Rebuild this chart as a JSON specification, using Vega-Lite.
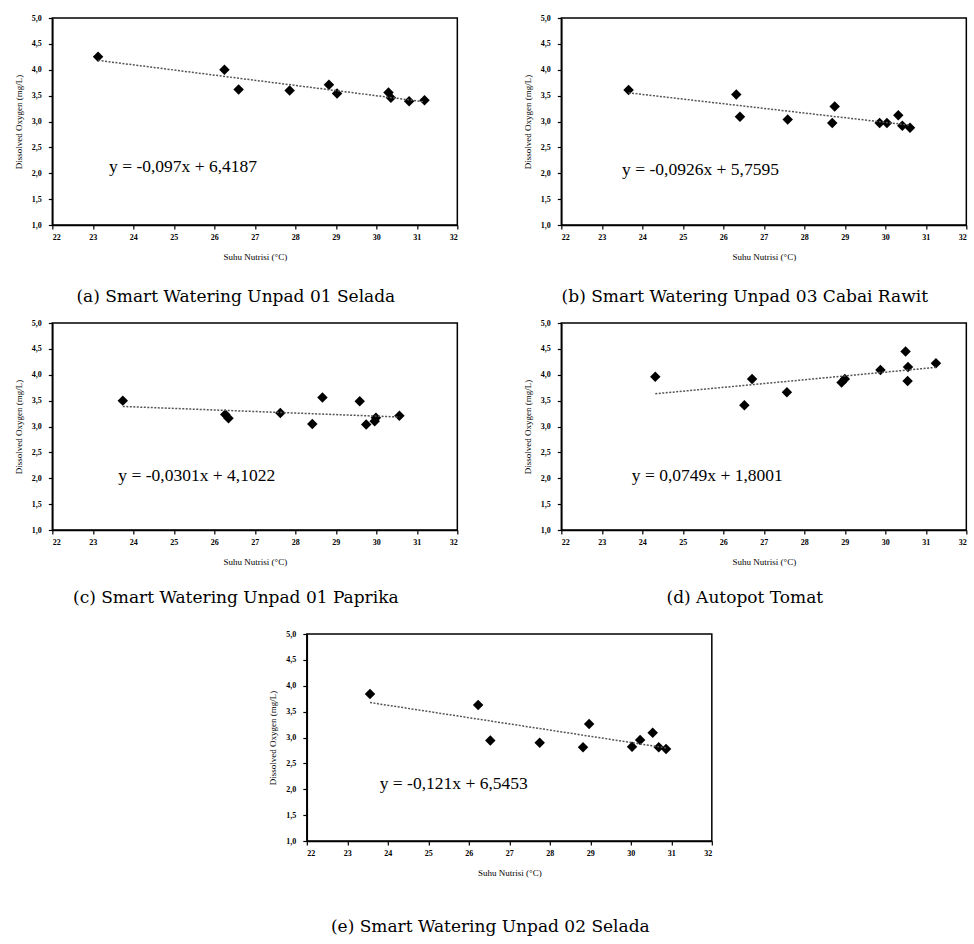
{
  "$schema": "https://vega.github.io/schema/vega-lite/v6.json",
  "background": "white",
  "padding": {"left": 13, "top": 13, "right": 0, "bottom": 0},
  "datasets": {
    "pts": [
      {"panel": "a", "suhu": 23.13, "do": 4.25},
      {"panel": "a", "suhu": 26.25, "do": 4.0},
      {"panel": "a", "suhu": 26.6, "do": 3.62},
      {"panel": "a", "suhu": 27.86, "do": 3.6},
      {"panel": "a", "suhu": 28.83, "do": 3.71},
      {"panel": "a", "suhu": 29.03, "do": 3.54},
      {"panel": "a", "suhu": 30.3, "do": 3.56},
      {"panel": "a", "suhu": 30.36, "do": 3.46},
      {"panel": "a", "suhu": 30.81, "do": 3.39},
      {"panel": "a", "suhu": 31.19, "do": 3.41},
      {"panel": "b", "suhu": 23.66, "do": 3.61},
      {"panel": "b", "suhu": 26.32, "do": 3.52},
      {"panel": "b", "suhu": 26.41, "do": 3.09},
      {"panel": "b", "suhu": 27.59, "do": 3.04},
      {"panel": "b", "suhu": 28.69, "do": 2.97},
      {"panel": "b", "suhu": 28.75, "do": 3.29},
      {"panel": "b", "suhu": 29.86, "do": 2.97},
      {"panel": "b", "suhu": 30.04, "do": 2.97},
      {"panel": "b", "suhu": 30.32, "do": 3.12},
      {"panel": "b", "suhu": 30.42, "do": 2.92},
      {"panel": "b", "suhu": 30.61, "do": 2.88},
      {"panel": "c", "suhu": 23.74, "do": 3.5},
      {"panel": "c", "suhu": 26.27, "do": 3.23},
      {"panel": "c", "suhu": 26.35, "do": 3.16},
      {"panel": "c", "suhu": 27.63, "do": 3.26},
      {"panel": "c", "suhu": 28.42, "do": 3.05},
      {"panel": "c", "suhu": 28.67, "do": 3.56},
      {"panel": "c", "suhu": 29.59, "do": 3.49},
      {"panel": "c", "suhu": 29.75, "do": 3.04},
      {"panel": "c", "suhu": 29.96, "do": 3.1},
      {"panel": "c", "suhu": 29.99, "do": 3.17},
      {"panel": "c", "suhu": 30.57, "do": 3.21},
      {"panel": "d", "suhu": 24.32, "do": 3.96},
      {"panel": "d", "suhu": 26.52, "do": 3.41},
      {"panel": "d", "suhu": 26.71, "do": 3.92},
      {"panel": "d", "suhu": 27.57, "do": 3.66},
      {"panel": "d", "suhu": 28.92, "do": 3.85},
      {"panel": "d", "suhu": 29.0, "do": 3.92},
      {"panel": "d", "suhu": 29.88, "do": 4.09},
      {"panel": "d", "suhu": 30.5, "do": 4.45},
      {"panel": "d", "suhu": 30.56, "do": 4.15},
      {"panel": "d", "suhu": 30.55, "do": 3.88},
      {"panel": "d", "suhu": 31.25, "do": 4.22},
      {"panel": "e", "suhu": 23.56, "do": 3.84},
      {"panel": "e", "suhu": 26.23, "do": 3.63},
      {"panel": "e", "suhu": 26.53, "do": 2.94},
      {"panel": "e", "suhu": 27.75, "do": 2.9},
      {"panel": "e", "suhu": 28.82, "do": 2.81},
      {"panel": "e", "suhu": 28.97, "do": 3.26},
      {"panel": "e", "suhu": 30.03, "do": 2.82},
      {"panel": "e", "suhu": 30.23, "do": 2.95},
      {"panel": "e", "suhu": 30.54, "do": 3.09},
      {"panel": "e", "suhu": 30.69, "do": 2.81},
      {"panel": "e", "suhu": 30.87, "do": 2.78}
    ],
    "eqs": [
      {"panel": "a", "eq": "y = -0,097x + 6,4187"},
      {"panel": "b", "eq": "y = -0,0926x + 5,7595"},
      {"panel": "c", "eq": "y = -0,0301x + 4,1022"},
      {"panel": "d", "eq": "y = 0,0749x + 1,8001"},
      {"panel": "e", "eq": "y = -0,121x + 6,5453"}
    ]
  },
  "vconcat": [
    {
      "vconcat": [
        {
          "hconcat": [
            {
              "width": 405, "height": 207,
              "title": {"text": "(a) Smart Watering Unpad 01 Selada", "orient": "bottom", "anchor": "middle", "frame": "group", "dx": -19, "offset": 28},
              "layer": [
                {"data": {"name": "pts"}, "transform": [{"filter": "datum.panel === 'a'"}],
                 "mark": {"type": "point", "shape": "diamond", "filled": true, "color": "black", "size": 110, "opacity": 1},
                 "encoding": {
                   "x": {"field": "suhu", "type": "quantitative", "scale": {"domain": [22, 32], "nice": false, "zero": false}, "axis": {"values": [22, 23, 24, 25, 26, 27, 28, 29, 30, 31, 32], "tickCount": 12, "title": "Suhu Nutrisi (°C)"}},
                   "y": {"field": "do", "type": "quantitative", "scale": {"domain": [1, 5], "nice": false, "zero": false}, "axis": {"values": [1, 1.5, 2, 2.5, 3, 3.5, 4, 4.5, 5], "tickCount": 10, "format": ".1f", "labelOverlap": false, "title": "Dissolved Oxygen (mg/L)"}}
                 }},
                {"data": {"name": "pts"}, "transform": [{"filter": "datum.panel === 'a'"}, {"regression": "do", "on": "suhu"}],
                 "mark": {"type": "line", "strokeDash": [2, 1.5], "color": "#555555", "strokeWidth": 1.5},
                 "encoding": {"x": {"field": "suhu", "type": "quantitative"}, "y": {"field": "do", "type": "quantitative"}}},
                {"data": {"name": "eqs"}, "transform": [{"filter": "datum.panel === 'a'"}],
                 "mark": {"type": "text", "align": "left", "baseline": "middle", "font": "Liberation Serif", "fontSize": 17.5, "color": "black"},
                 "encoding": {"x": {"datum": 23.4, "type": "quantitative"}, "y": {"datum": 2.13, "type": "quantitative"}, "text": {"field": "eq"}}}
              ]
            },
            {
              "width": 405, "height": 207,
              "title": {"text": "(b) Smart Watering Unpad 03 Cabai Rawit", "orient": "bottom", "anchor": "middle", "frame": "group", "dx": -19, "offset": 28},
              "layer": [
                {"data": {"name": "pts"}, "transform": [{"filter": "datum.panel === 'b'"}],
                 "mark": {"type": "point", "shape": "diamond", "filled": true, "color": "black", "size": 110, "opacity": 1},
                 "encoding": {
                   "x": {"field": "suhu", "type": "quantitative", "scale": {"domain": [22, 32], "nice": false, "zero": false}, "axis": {"values": [22, 23, 24, 25, 26, 27, 28, 29, 30, 31, 32], "tickCount": 12, "title": "Suhu Nutrisi (°C)"}},
                   "y": {"field": "do", "type": "quantitative", "scale": {"domain": [1, 5], "nice": false, "zero": false}, "axis": {"values": [1, 1.5, 2, 2.5, 3, 3.5, 4, 4.5, 5], "tickCount": 10, "format": ".1f", "labelOverlap": false, "title": "Dissolved Oxygen (mg/L)"}}
                 }},
                {"data": {"name": "pts"}, "transform": [{"filter": "datum.panel === 'b'"}, {"regression": "do", "on": "suhu"}],
                 "mark": {"type": "line", "strokeDash": [2, 1.5], "color": "#555555", "strokeWidth": 1.5},
                 "encoding": {"x": {"field": "suhu", "type": "quantitative"}, "y": {"field": "do", "type": "quantitative"}}},
                {"data": {"name": "eqs"}, "transform": [{"filter": "datum.panel === 'b'"}],
                 "mark": {"type": "text", "align": "left", "baseline": "middle", "font": "Liberation Serif", "fontSize": 17.5, "color": "black"},
                 "encoding": {"x": {"datum": 23.5, "type": "quantitative"}, "y": {"datum": 2.07, "type": "quantitative"}, "text": {"field": "eq"}}}
              ]
            }
          ],
          "spacing": 63
        },
        {
          "hconcat": [
            {
              "width": 405, "height": 207,
              "title": {"text": "(c) Smart Watering Unpad 01 Paprika", "orient": "bottom", "anchor": "middle", "frame": "group", "dx": -19, "offset": 24},
              "layer": [
                {"data": {"name": "pts"}, "transform": [{"filter": "datum.panel === 'c'"}],
                 "mark": {"type": "point", "shape": "diamond", "filled": true, "color": "black", "size": 110, "opacity": 1},
                 "encoding": {
                   "x": {"field": "suhu", "type": "quantitative", "scale": {"domain": [22, 32], "nice": false, "zero": false}, "axis": {"values": [22, 23, 24, 25, 26, 27, 28, 29, 30, 31, 32], "tickCount": 12, "title": "Suhu Nutrisi (°C)"}},
                   "y": {"field": "do", "type": "quantitative", "scale": {"domain": [1, 5], "nice": false, "zero": false}, "axis": {"values": [1, 1.5, 2, 2.5, 3, 3.5, 4, 4.5, 5], "tickCount": 10, "format": ".1f", "labelOverlap": false, "title": "Dissolved Oxygen (mg/L)"}}
                 }},
                {"data": {"name": "pts"}, "transform": [{"filter": "datum.panel === 'c'"}, {"regression": "do", "on": "suhu"}],
                 "mark": {"type": "line", "strokeDash": [2, 1.5], "color": "#555555", "strokeWidth": 1.5},
                 "encoding": {"x": {"field": "suhu", "type": "quantitative"}, "y": {"field": "do", "type": "quantitative"}}},
                {"data": {"name": "eqs"}, "transform": [{"filter": "datum.panel === 'c'"}],
                 "mark": {"type": "text", "align": "left", "baseline": "middle", "font": "Liberation Serif", "fontSize": 17.5, "color": "black"},
                 "encoding": {"x": {"datum": 23.63, "type": "quantitative"}, "y": {"datum": 2.05, "type": "quantitative"}, "text": {"field": "eq"}}}
              ]
            },
            {
              "width": 405, "height": 207,
              "title": {"text": "(d) Autopot Tomat", "orient": "bottom", "anchor": "middle", "frame": "group", "dx": -19, "offset": 24},
              "layer": [
                {"data": {"name": "pts"}, "transform": [{"filter": "datum.panel === 'd'"}],
                 "mark": {"type": "point", "shape": "diamond", "filled": true, "color": "black", "size": 110, "opacity": 1},
                 "encoding": {
                   "x": {"field": "suhu", "type": "quantitative", "scale": {"domain": [22, 32], "nice": false, "zero": false}, "axis": {"values": [22, 23, 24, 25, 26, 27, 28, 29, 30, 31, 32], "tickCount": 12, "title": "Suhu Nutrisi (°C)"}},
                   "y": {"field": "do", "type": "quantitative", "scale": {"domain": [1, 5], "nice": false, "zero": false}, "axis": {"values": [1, 1.5, 2, 2.5, 3, 3.5, 4, 4.5, 5], "tickCount": 10, "format": ".1f", "labelOverlap": false, "title": "Dissolved Oxygen (mg/L)"}}
                 }},
                {"data": {"name": "pts"}, "transform": [{"filter": "datum.panel === 'd'"}, {"regression": "do", "on": "suhu"}],
                 "mark": {"type": "line", "strokeDash": [2, 1.5], "color": "#555555", "strokeWidth": 1.5},
                 "encoding": {"x": {"field": "suhu", "type": "quantitative"}, "y": {"field": "do", "type": "quantitative"}}},
                {"data": {"name": "eqs"}, "transform": [{"filter": "datum.panel === 'd'"}],
                 "mark": {"type": "text", "align": "left", "baseline": "middle", "font": "Liberation Serif", "fontSize": 17.5, "color": "black"},
                 "encoding": {"x": {"datum": 23.74, "type": "quantitative"}, "y": {"datum": 2.05, "type": "quantitative"}, "text": {"field": "eq"}}}
              ]
            }
          ],
          "spacing": 63
        }
      ],
      "spacing": 12
    },
    {
      "width": 405, "height": 207,
      "title": {"text": "(e) Smart Watering Unpad 02 Selada", "orient": "bottom", "anchor": "middle", "frame": "group", "dx": -19, "offset": 42},
      "layer": [
        {"data": {"name": "pts"}, "transform": [{"filter": "datum.panel === 'e'"}],
         "mark": {"type": "point", "shape": "diamond", "filled": true, "color": "black", "size": 110, "opacity": 1},
         "encoding": {
           "x": {"field": "suhu", "type": "quantitative", "scale": {"domain": [22, 32], "nice": false, "zero": false}, "axis": {"values": [22, 23, 24, 25, 26, 27, 28, 29, 30, 31, 32], "tickCount": 12, "title": "Suhu Nutrisi (°C)"}},
           "y": {"field": "do", "type": "quantitative", "scale": {"domain": [1, 5], "nice": false, "zero": false}, "axis": {"values": [1, 1.5, 2, 2.5, 3, 3.5, 4, 4.5, 5], "tickCount": 10, "format": ".1f", "labelOverlap": false, "title": "Dissolved Oxygen (mg/L)"}}
         }},
        {"data": {"name": "pts"}, "transform": [{"filter": "datum.panel === 'e'"}, {"regression": "do", "on": "suhu"}],
         "mark": {"type": "line", "strokeDash": [2, 1.5], "color": "#555555", "strokeWidth": 1.5},
         "encoding": {"x": {"field": "suhu", "type": "quantitative"}, "y": {"field": "do", "type": "quantitative"}}},
        {"data": {"name": "eqs"}, "transform": [{"filter": "datum.panel === 'e'"}],
         "mark": {"type": "text", "align": "left", "baseline": "middle", "font": "Liberation Serif", "fontSize": 17.5, "color": "black"},
         "encoding": {"x": {"datum": 23.8, "type": "quantitative"}, "y": {"datum": 2.1, "type": "quantitative"}, "text": {"field": "eq"}}}
      ]
    }
  ],
  "spacing": 22,
  "center": true,
  "config": {
    "font": "Liberation Serif",
    "locale": {"number": {"decimal": ",", "thousands": ".", "grouping": [3], "currency": ["", ""]}},
    "view": {"stroke": "black", "strokeWidth": 1.5},
    "axis": {
      "domainColor": "black", "domainWidth": 1.5,
      "tickColor": "black", "tickSize": 4, "tickWidth": 1.2,
      "labelFont": "Liberation Serif", "labelFontSize": 8, "labelFontWeight": "bold", "labelColor": "black",
      "titleFont": "Liberation Serif", "titleFontSize": 9, "titleFontWeight": "normal", "titleColor": "black",
      "grid": false, "labelOverlap": false
    },
    "axisX": {"labelPadding": 4, "titlePadding": 11},
    "axisY": {"labelPadding": 7, "titlePadding": 8},
    "title": {"font": "DejaVu Serif", "fontSize": 17, "fontWeight": "normal", "color": "black"}
  }
}
